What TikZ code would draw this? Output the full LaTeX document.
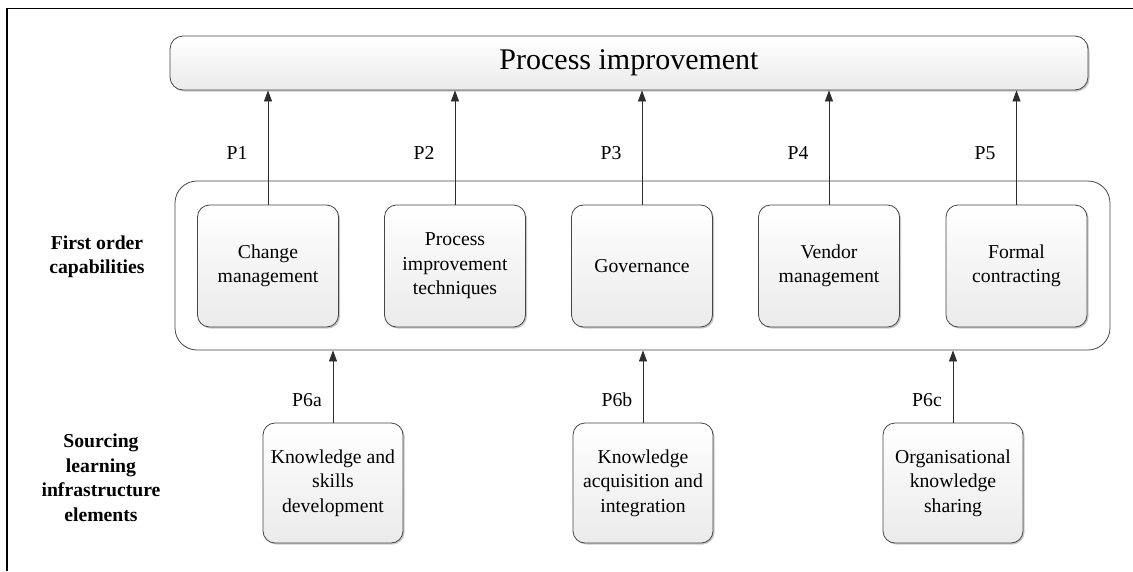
\documentclass[tikz,border=0pt]{standalone}
\usepackage{fontspec}
\setmainfont{Liberation Serif}
\usetikzlibrary{arrows.meta,shadows}
\newcommand{\boxfont}{\fontsize{19.7}{24.5}\selectfont}
\begin{document}
\begin{tikzpicture}[x=1pt,y=-1pt,
  shadowed/.style={drop shadow={shadow xshift=1.5pt,shadow yshift=-1.5pt,fill=black,opacity=0.22}},
  cardbox/.style={draw=gray!55!black, line width=0.8pt, rounded corners=12pt,
    top color=white, bottom color=gray!16, shadowed,
    minimum width=141pt, minimum height=122pt, align=center, font=\boxfont, inner sep=2pt},
  titlebox/.style={draw=gray!55!black, line width=0.8pt, rounded corners=13pt,
    top color=white, bottom color=gray!16, shadowed,
    minimum width=918pt, minimum height=54pt, font=\fontsize{30}{34}\selectfont},
  group/.style={draw=gray!55!black, line width=0.8pt, rounded corners=22pt,
    minimum width=935pt, minimum height=169pt},
  arr/.style={draw=gray!35!black, line width=0.8pt, -{Triangle[length=11pt,width=8pt]}},
  plabel/.style={font=\boxfont},
  side/.style={font=\boxfont\bfseries, align=center}]
\useasboundingbox (0,0) rectangle (1133,571);
\fill[white] (0,0) rectangle (1133,571);
% frame
\draw[line width=1.4pt] (7,571) -- (7,8.5) -- (1133,8.5);

% top level
\node[titlebox] (title) at (629,63) {Process improvement};

% first order capabilities
\node[group] (cap) at (642.5,265.5) {};
\node[cardbox] (c1) at (268,266) {Change\\management};
\node[cardbox] (c2) at (455,266) {Process\\improvement\\techniques};
\node[cardbox] (c3) at (642,266) {Governance};
\node[cardbox] (c4) at (829,266) {Vendor\\management};
\node[cardbox] (c5) at (1016.5,266) {Formal\\contracting};

% learning infrastructure elements
\node[cardbox, minimum width=140pt, minimum height=120pt] (k1) at (333,483) {Knowledge and\\skills\\development};
\node[cardbox, minimum width=140pt, minimum height=120pt] (k2) at (643,483) {Knowledge\\acquisition and\\integration};
\node[cardbox, minimum width=140pt, minimum height=120pt] (k3) at (953,483) {Organisational\\knowledge\\sharing};

% side labels
\node[side] (s1) at (97,257) {First order\\capabilities};
\node[side] (s2) at (101,478) {Sourcing\\learning\\infrastructure\\elements};

% arrows to process improvement
\foreach \i in {1,...,5} {
  \draw[arr] (c\i.north) -- (c\i.north |- title.south);
}
% arrows to capabilities
\foreach \i in {1,2,3} {
  \draw[arr] (k\i.north) -- (k\i.north |- cap.south);
}

% hypothesis labels
\node[plabel] (p1) at (237,153) {P1};
\node[plabel] (p2) at (424,153) {P2};
\node[plabel] (p3) at (611,153) {P3};
\node[plabel] (p4) at (798,153) {P4};
\node[plabel] (p5) at (985,153) {P5};
\node[plabel] (p6a) at (307,400) {P6a};
\node[plabel] (p6b) at (617,400) {P6b};
\node[plabel] (p6c) at (927,400) {P6c};
\end{tikzpicture}
\end{document}
